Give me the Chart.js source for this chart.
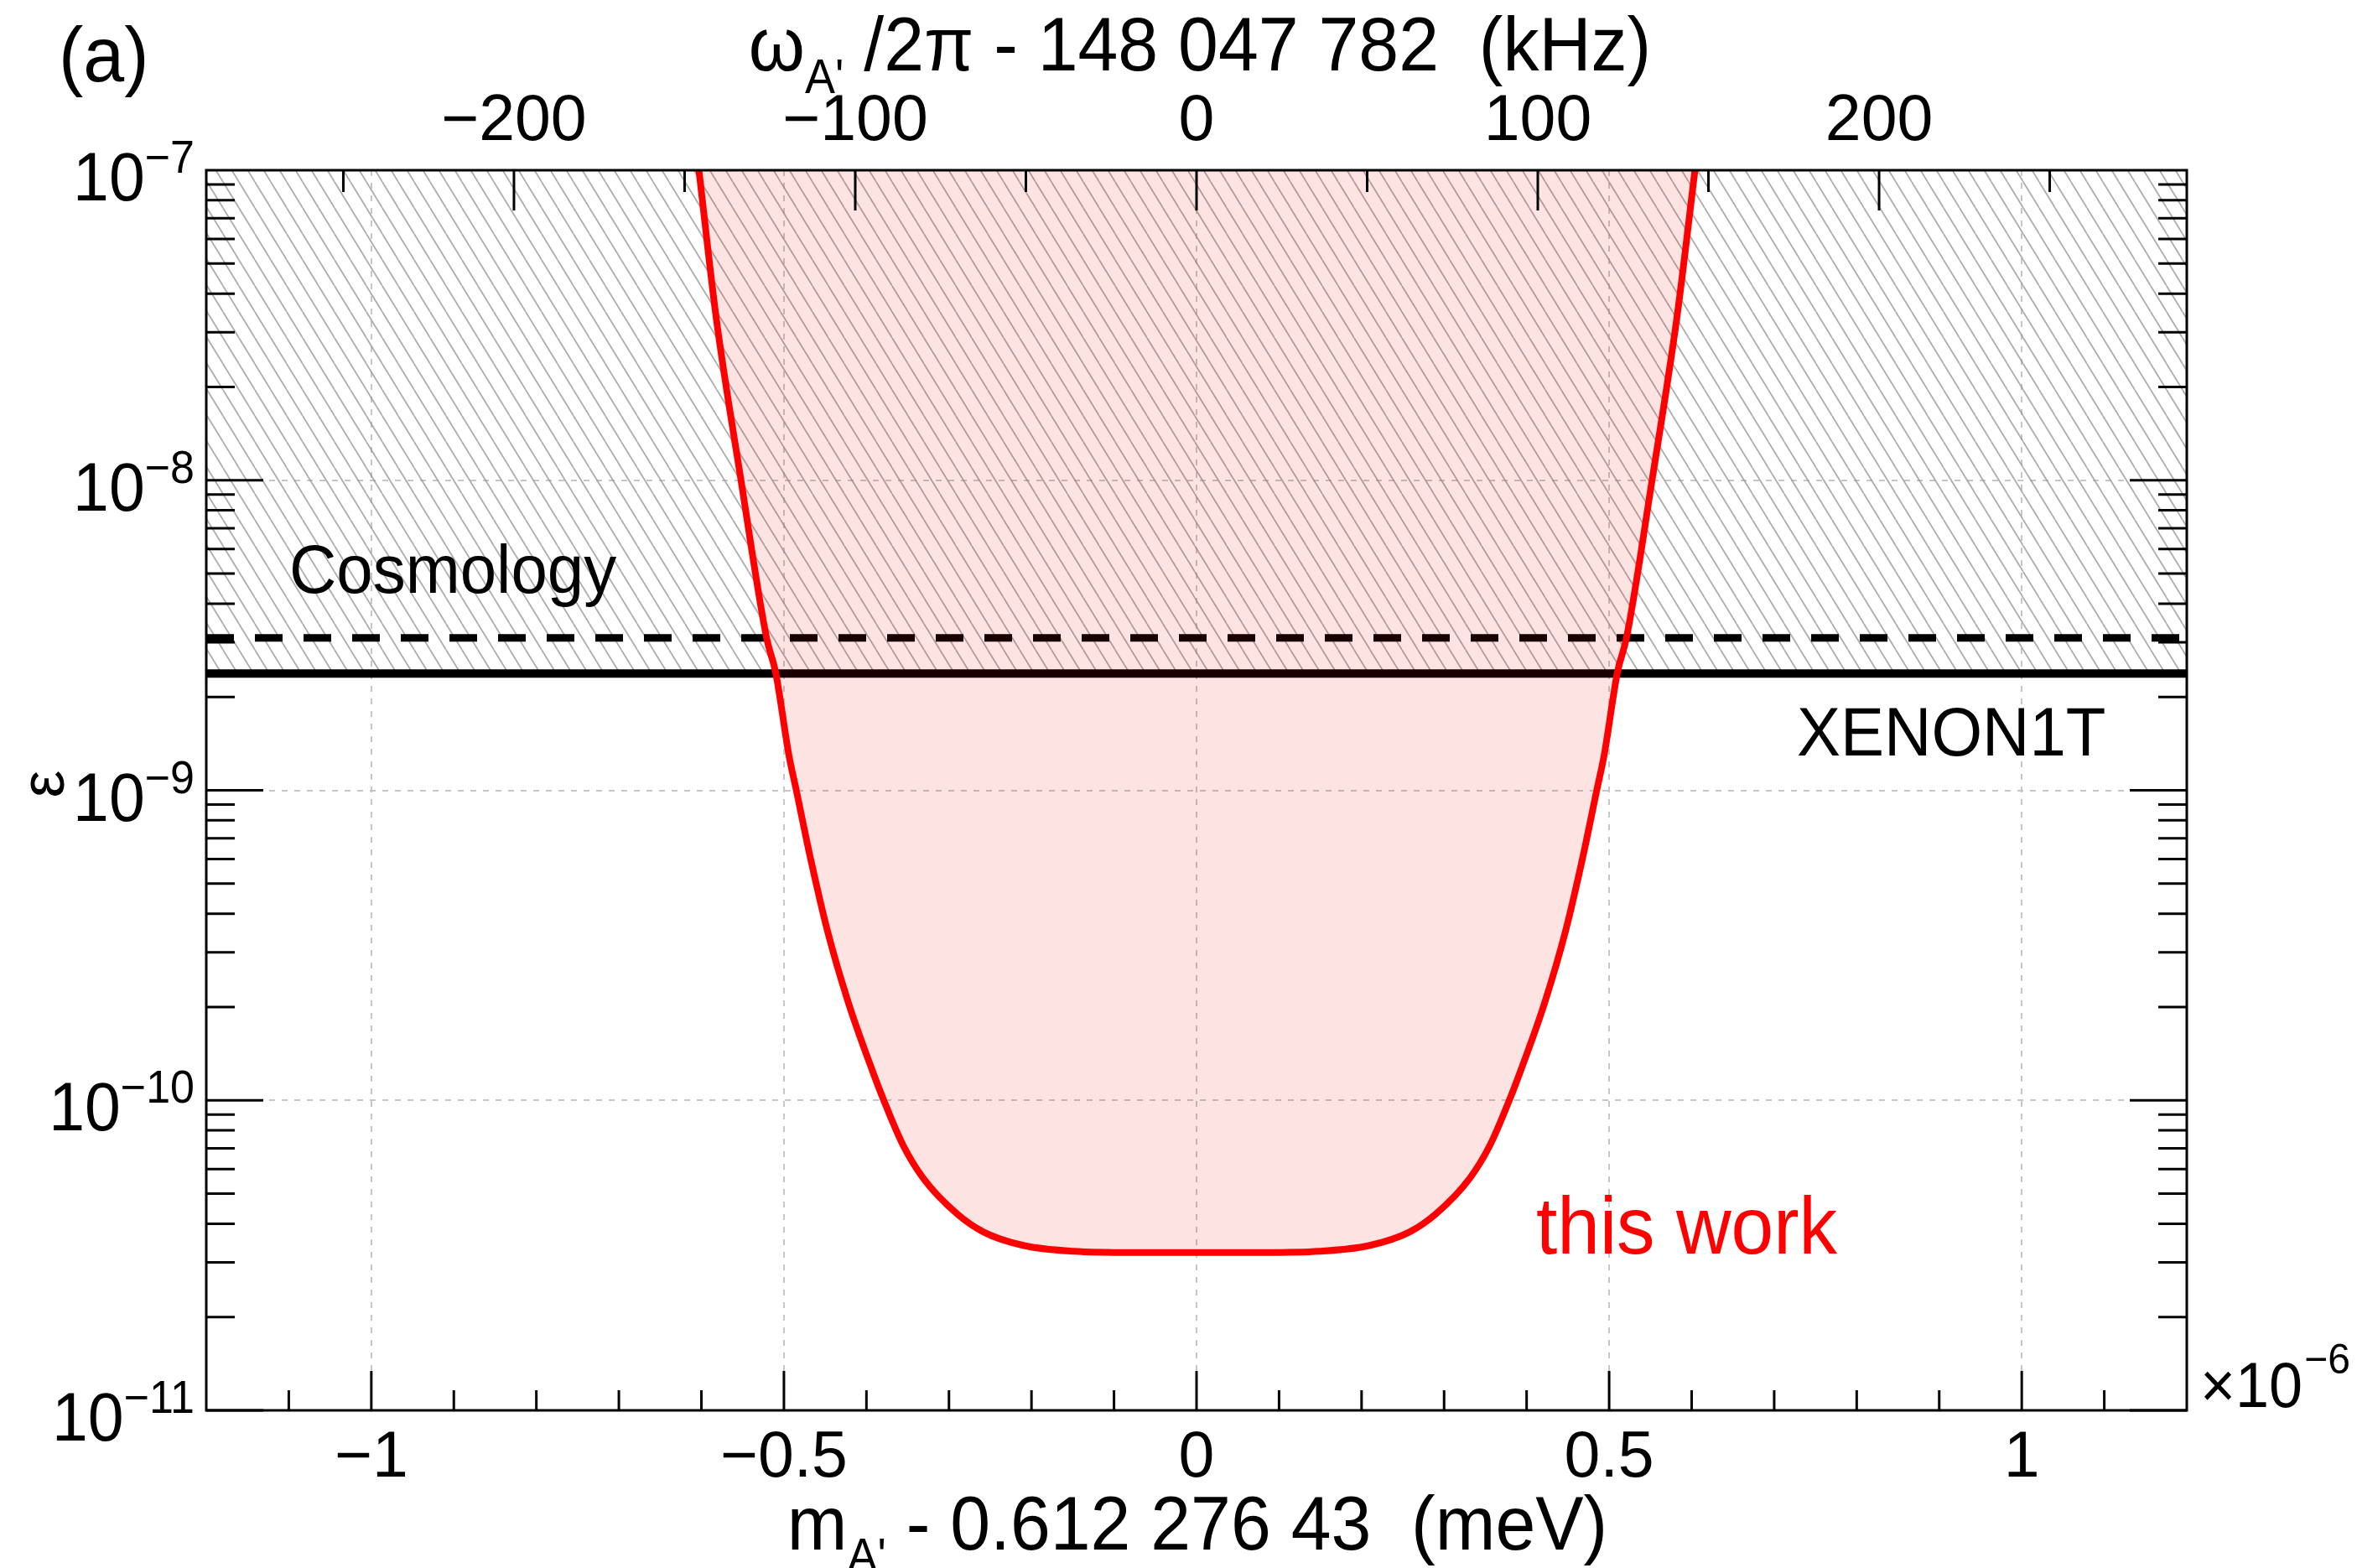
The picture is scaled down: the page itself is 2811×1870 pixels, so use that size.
<!DOCTYPE html>
<html>
<head>
<meta charset="utf-8">
<title>Dark photon kinetic mixing limit</title>
<script src="https://cdn.jsdelivr.net/npm/chart.js@4.4.1/dist/chart.umd.min.js"></script>
<style>
  html, body { margin: 0; padding: 0; background: #ffffff; }
  #box { position: relative; width: 2811px; height: 1870px; }
  canvas { display: block; }
</style>
</head>
<body>
<div id="box"><canvas id="chart" width="2811" height="1870"></canvas></div>
<script>
// ---------------- data ----------------
// x: m_A' - 0.612 276 43 meV, in units of 1e-6 meV
const massOffset = [
  -0.603, -0.582, -0.552, -0.521, -0.510, -0.494, -0.485, -0.467, -0.447, -0.422,
  -0.392, -0.379, -0.356, -0.331, -0.290, -0.258, -0.209, -0.149, -0.080, 0.000,
   0.080,  0.149,  0.209,  0.258,  0.290,  0.331,  0.356,  0.379,  0.392,  0.422,
   0.447,  0.467,  0.485,  0.494,  0.510,  0.521,  0.552,  0.582,  0.604
];
// epsilon upper limit of "this work"
const epsThisWork = [
  1.0e-7, 3.33e-8, 1.0e-8, 3.1e-9, 2.4e-9, 1.3e-9, 1.0e-9, 5.9e-10, 3.5e-10, 2.07e-10,
  1.23e-10, 1.0e-10, 7.2e-11, 5.6e-11, 4.3e-11, 3.76e-11, 3.4e-11, 3.26e-11, 3.23e-11, 3.23e-11,
  3.23e-11, 3.26e-11, 3.4e-11, 3.76e-11, 4.3e-11, 5.6e-11, 7.2e-11, 1.0e-10, 1.23e-10, 2.07e-10,
  3.5e-10, 5.9e-10, 1.0e-9, 1.3e-9, 2.4e-9, 3.1e-9, 1.0e-8, 3.33e-8, 1.0e-7
];
const xenon1tLevel = 2.38e-9;      // solid black line
const cosmologyLevel = 3.1e-9;     // dashed black line
const massLimits = [-1.2, 1.2];
const epsLimits = [1e-11, 1e-7];
const bottomTicks = [-1, -0.5, 0, 0.5, 1];
const topTicks = [-200, -100, 0, 100, 200];
const epsTicks = [1e-11, 1e-10, 1e-9, 1e-8, 1e-7];
const epsTickExponents = ['\u221211', '\u221210', '\u22129', '\u22128', '\u22127'];
const kHzPerUnit = 241.799;        // 1e-9 eV / h, in kHz

// ---------------- styling ----------------
const FONT = '"Liberation Sans", Arial, Helvetica, sans-serif';
const AREA = { left: 246, right: 2608, top: 203, bottom: 1682 };
const W = 2811, H = 1870;

const fmt = v => (v < 0 ? '\u2212' + String(Math.abs(v)) : String(v));

function hatchPattern() {
  const w = 19, h = 31;
  const c = document.createElement('canvas');
  c.width = w; c.height = h;
  const g = c.getContext('2d');
  g.strokeStyle = 'rgba(150,150,150,0.8)';
  g.lineWidth = 1.7;
  for (const k of [-1, 0, 1]) {
    g.beginPath();
    g.moveTo(k * w, 0);
    g.lineTo(k * w + w, h);
    g.stroke();
  }
  return g.createPattern(c, 'repeat');
}

const limitPoints = massOffset.map((x, i) => ({ x, y: epsThisWork[i] }));
const flatLine = lvl => massLimits.map(x => ({ x, y: lvl }));

function txt(ctx, s, x, y, size, opts = {}) {
  ctx.save();
  ctx.font = `${size}px ${FONT}`;
  ctx.fillStyle = opts.color || '#000';
  ctx.textAlign = opts.align || 'left';
  ctx.textBaseline = 'alphabetic';
  const sy = opts.sy || 1.05;
  ctx.translate(x, y);
  if (opts.rot) ctx.rotate(opts.rot);
  ctx.scale(1, sy);
  ctx.fillText(s, 0, 0);
  ctx.restore();
}
function width(ctx, s, size) {
  ctx.save(); ctx.font = `${size}px ${FONT}`;
  const w = ctx.measureText(s).width; ctx.restore(); return w;
}
// pieces: [text, size, dy]
function drawPieces(ctx, pieces, cx, baseY) {
  const tot = pieces.reduce((a, p) => a + width(ctx, p[0], p[1]), 0);
  let x = cx - tot / 2;
  for (const p of pieces) {
    txt(ctx, p[0], x, baseY + (p[2] || 0), p[1]);
    x += width(ctx, p[0], p[1]);
  }
}

const decor = {
  id: 'decor',
  afterDatasetsDraw(chart) {
    const { ctx, chartArea: a, scales } = chart;
    const x = scales.x, x2 = scales.x2, y = scales.y;
    ctx.save();
    ctx.strokeStyle = '#000';
    ctx.lineWidth = 3;
    ctx.lineCap = 'butt';
    const seg = (x1, y1, xa, ya) => { ctx.beginPath(); ctx.moveTo(x1, y1); ctx.lineTo(xa, ya); ctx.stroke(); };
    // bottom axis ticks (inward)
    for (let i = -11; i <= 11; i++) {
      const px = x.getPixelForValue(i / 10);
      seg(px, a.bottom, px, a.bottom - (i % 5 === 0 ? 47 : 24));
    }
    // top axis ticks (inward)
    for (let v = -250; v <= 250; v += 50) {
      const px = x2.getPixelForValue(v);
      seg(px, a.top, px, a.top + (v % 100 === 0 ? 48 : 26));
    }
    // left / right log ticks (inward)
    for (let e = -11; e <= -8; e++) {
      for (let k = 1; k <= 9; k++) {
        const py = y.getPixelForValue(k * Math.pow(10, e));
        const len = k === 1 ? 68 : 34;
        seg(a.left, py, a.left + len, py);
        seg(a.right, py, a.right - len, py);
      }
    }
    // frame
    ctx.strokeRect(a.left, a.top, a.right - a.left, a.bottom - a.top);
    ctx.restore();
  },
  afterDraw(chart) {
    const { ctx, scales } = chart;
    const y = scales.y;
    // y tick labels 10^n
    epsTicks.forEach((v, i) => {
      const py = y.getPixelForValue(v);
      const exp = epsTickExponents[i];
      const wb = width(ctx, '10', 77), we = width(ctx, exp, 52);
      const xr = 232;
      txt(ctx, '10', xr - we - wb, py + 36, 77);
      txt(ctx, exp, xr - we, py + 3, 52);
    });
    // y title
    txt(ctx, '\u03b5', 76, 935, 74, { align: 'center', rot: -Math.PI / 2, sy: 1 });
    // top title
    drawPieces(ctx, [['\u03c9', 86], ["A'", 54, 27], [' /2\u03c0 - 148 047 782  (kHz)', 86]], 1431, 84);
    // bottom title
    drawPieces(ctx, [['m', 86], ["A'", 54, 27], [' - 0.612 276 43  (meV)', 86]], 1428, 1848);
    // panel label
    txt(ctx, '(a)', 70, 97, 88);
    // x10^-6
    txt(ctx, '\u00d710', 2624, 1678, 72);
    txt(ctx, '\u22126', 2624 + width(ctx, '\u00d710', 72) + 2, 1638, 48);
    // region labels
    txt(ctx, 'Cosmology', 345, 707, 78);
    txt(ctx, 'XENON1T', 2143, 901, 78);
    txt(ctx, 'this work', 1832, 1495, 91, { color: '#ff0000' });
  }
};

const chart = new Chart(document.getElementById('chart'), {
  type: 'line',
  data: {
    datasets: [
      {
        label: 'this work', data: limitPoints, xAxisID: 'x', yAxisID: 'y',
        borderColor: '#ff0000', borderWidth: 8,
        backgroundColor: 'rgba(250,0,0,0.11)', fill: 'end',
        cubicInterpolationMode: 'monotone', pointRadius: 0, order: 0
      },
      {
        label: 'Cosmology', data: flatLine(cosmologyLevel), xAxisID: 'x', yAxisID: 'y',
        borderColor: '#000', borderWidth: 9, borderDash: [33, 25],
        fill: false, pointRadius: 0, order: 1
      },
      {
        label: 'XENON1T', data: flatLine(xenon1tLevel), xAxisID: 'x', yAxisID: 'y',
        borderColor: '#000', borderWidth: 10,
        backgroundColor: hatchPattern(), fill: 'end', pointRadius: 0, order: 2
      }
    ]
  },
  options: {
    responsive: false,
    animation: false,
    devicePixelRatio: 1,
    layout: { padding: 0 },
    plugins: { legend: { display: false }, tooltip: { enabled: false } },
    scales: {
      x: {
        type: 'linear', position: 'bottom', min: massLimits[0], max: massLimits[1],
        afterBuildTicks: s => { s.ticks = bottomTicks.map(v => ({ value: v })); },
        afterFit: s => { s.height = H - AREA.bottom; },
        grid: { color: '#c6c6c6', lineWidth: 2, drawTicks: false },
        border: { display: false, dash: [7, 8] },
        ticks: { font: { family: FONT, size: 77 }, color: '#000', padding: 12,
                 maxRotation: 0, autoSkip: false, callback: v => fmt(v) }
      },
      x2: {
        type: 'linear', position: 'top',
        min: massLimits[0] * kHzPerUnit, max: massLimits[1] * kHzPerUnit,
        afterBuildTicks: s => { s.ticks = topTicks.map(v => ({ value: v })); },
        afterFit: s => { s.height = AREA.top; },
        grid: { display: false, drawTicks: false },
        border: { display: false },
        ticks: { font: { family: FONT, size: 77 }, color: '#000', padding: 11,
                 maxRotation: 0, autoSkip: false, callback: v => fmt(v) }
      },
      y: {
        type: 'logarithmic', position: 'left', min: epsLimits[0], max: epsLimits[1],
        afterBuildTicks: s => { s.ticks = epsTicks.map(v => ({ value: v })); },
        afterFit: s => { s.width = AREA.left; },
        grid: { color: '#c6c6c6', lineWidth: 2, drawTicks: false },
        border: { display: false, dash: [7, 8] },
        ticks: { display: false }
      },
      y2: {
        type: 'logarithmic', position: 'right', min: epsLimits[0], max: epsLimits[1],
        afterFit: s => { s.width = W - AREA.right; },
        grid: { display: false, drawTicks: false },
        border: { display: false },
        ticks: { display: false }
      }
    }
  },
  plugins: [decor]
});
</script>
</body>
</html>
